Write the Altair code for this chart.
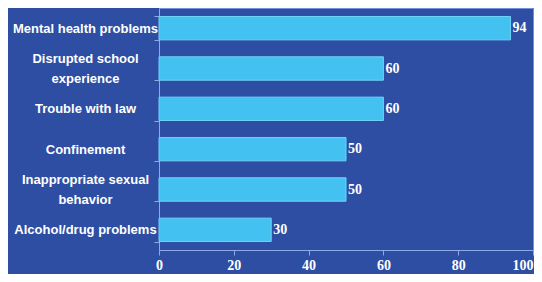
import altair as alt
import pandas as pd

categories = [
    "Mental health problems",
    "Disrupted school|experience",
    "Trouble with law",
    "Confinement",
    "Inappropriate sexual|behavior",
    "Alcohol/drug problems",
]
values = [94, 60, 60, 50, 50, 30]
x_ticks = [0, 20, 40, 60, 80, 100]

df = pd.DataFrame({"category": categories, "value": values})

axis_color = "#8fa9e6"

y_enc = alt.Y(
    "category:N",
    sort=categories,
    title=None,
    scale=alt.Scale(paddingInner=0.42, paddingOuter=0.21),
    axis=alt.Axis(
        labelExpr="split(datum.label, '|')",
        labelAlign="center",
        labelBaseline={
            "condition": {"test": "indexof(datum.label, '|') >= 0", "value": "line-bottom"},
            "value": "middle",
        },
        labelPadding=69,
        labelLineHeight=20,
        labelFont="Liberation Sans",
        labelFontWeight="bold",
        labelFontSize=13,
        labelColor="white",
        labelLimit=200,
        tickBand="extent",
        tickSize=5,
        tickColor=axis_color,
        domainColor=axis_color,
        grid=False,
    ),
)

x_enc = alt.X(
    "value:Q",
    title=None,
    scale=alt.Scale(domain=[0, 100]),
    axis=alt.Axis(
        values=x_ticks,
        labelFlush=False,
        labelAlign={
            "condition": {"test": "datum.value >= 100", "value": "right"},
            "value": "center",
        },
        labelFont="Liberation Serif",
        labelFontWeight="bold",
        labelFontSize=14,
        labelColor="white",
        labelPadding=3,
        tickSize=5,
        tickColor=axis_color,
        domainColor=axis_color,
        grid=False,
    ),
)

base = alt.Chart(df)

bars = base.mark_bar(color="#43c1f1", stroke="#6fd2f7", strokeWidth=1).encode(
    x=x_enc, y=y_enc
)

labels = base.mark_text(
    align="left",
    baseline="middle",
    dx=2,
    font="Liberation Serif",
    fontWeight="bold",
    fontSize=14,
    color="white",
).encode(x=alt.X("value:Q"), y=alt.Y("category:N", sort=categories), text="value:Q")

chart = (
    alt.layer(bars, labels)
    .properties(
        width=374,
        height=242,
        autosize=alt.AutoSizeParams(type="none"),
        padding={"left": 151, "top": 0, "right": 1, "bottom": 24},
    )
    .configure(background="#2d4ea3")
    .configure_view(stroke="#7391d9", strokeWidth=1)
)

chart.save("out.html", embed_options={"renderer": "svg", "actions": False})
